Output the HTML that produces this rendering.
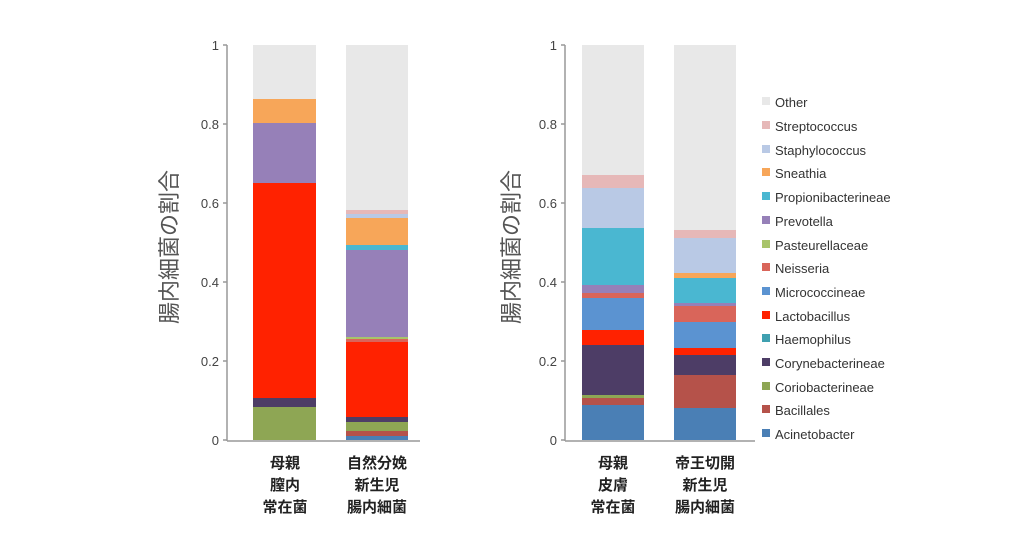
<!DOCTYPE html>
<html><head><meta charset="utf-8"><style>
body{margin:0;background:#fff;}
svg{display:block;font-family:"Liberation Sans","Noto Sans CJK JP",sans-serif;}
</style></head><body>
<svg width="1024" height="536" viewBox="0 0 1024 536">
<!-- left axis -->
<g stroke="#999" stroke-width="1.5" fill="none">
<line x1="227" y1="45" x2="227" y2="441"/>
<line x1="227" y1="441" x2="420" y2="441"/>
<line x1="223" y1="45" x2="227" y2="45"/><line x1="223" y1="124" x2="227" y2="124"/><line x1="223" y1="203" x2="227" y2="203"/><line x1="223" y1="282" x2="227" y2="282"/><line x1="223" y1="361" x2="227" y2="361"/><line x1="223" y1="440" x2="227" y2="440"/>
<line x1="565" y1="45" x2="565" y2="441"/>
<line x1="565" y1="441" x2="755" y2="441"/>
<line x1="561" y1="45" x2="565" y2="45"/><line x1="561" y1="124" x2="565" y2="124"/><line x1="561" y1="203" x2="565" y2="203"/><line x1="561" y1="282" x2="565" y2="282"/><line x1="561" y1="361" x2="565" y2="361"/><line x1="561" y1="440" x2="565" y2="440"/>
</g>
<g font-size="13" fill="#444" text-anchor="end">
<text x="219" y="50">1</text><text x="219" y="129">0.8</text><text x="219" y="208">0.6</text><text x="219" y="287">0.4</text><text x="219" y="366">0.2</text><text x="219" y="445">0</text>
<text x="557" y="50">1</text><text x="557" y="129">0.8</text><text x="557" y="208">0.6</text><text x="557" y="287">0.4</text><text x="557" y="366">0.2</text><text x="557" y="445">0</text>
</g>
<text transform="translate(177,247) rotate(-90)" font-size="22" fill="#555" text-anchor="middle">腸内細菌の割合</text>
<text transform="translate(519,247) rotate(-90)" font-size="22" fill="#555" text-anchor="middle">腸内細菌の割合</text>
<!-- left bar1 -->
<g>
<rect x="253" y="45" width="63" height="54" fill="#e8e8e8"/>
<rect x="253" y="99" width="63" height="24" fill="#f7a659"/>
<rect x="253" y="123" width="63" height="60" fill="#9680b8"/>
<rect x="253" y="183" width="63" height="215" fill="#ff2200"/>
<rect x="253" y="398" width="63" height="9" fill="#4d3d66"/>
<rect x="253" y="407" width="63" height="33" fill="#8ea654"/>
</g>
<g>
<rect x="346" y="45" width="62" height="165" fill="#e8e8e8"/>
<rect x="346" y="210" width="62" height="4" fill="#e6b8b8"/>
<rect x="346" y="214" width="62" height="4" fill="#b9c9e5"/>
<rect x="346" y="218" width="62" height="27" fill="#f7a659"/>
<rect x="346" y="245" width="62" height="5" fill="#4ab7d1"/>
<rect x="346" y="250" width="62" height="87" fill="#9680b8"/>
<rect x="346" y="337" width="62" height="2" fill="#a8c46a"/>
<rect x="346" y="339" width="62" height="3" fill="#d9655a"/>
<rect x="346" y="342" width="62" height="75" fill="#ff2200"/>
<rect x="346" y="417" width="62" height="5" fill="#4d3d66"/>
<rect x="346" y="422" width="62" height="9" fill="#8ea654"/>
<rect x="346" y="431" width="62" height="5" fill="#b5524a"/>
<rect x="346" y="436" width="62" height="4" fill="#4a7fb5"/>
</g>
<!-- right bars -->
<g>
<rect x="582" y="45" width="62" height="130" fill="#e8e8e8"/>
<rect x="582" y="175" width="62" height="13" fill="#e6b8b8"/>
<rect x="582" y="188" width="62" height="40" fill="#b9c9e5"/>
<rect x="582" y="228" width="62" height="57" fill="#4ab7d1"/>
<rect x="582" y="285" width="62" height="8" fill="#9680b8"/>
<rect x="582" y="293" width="62" height="5" fill="#d9655a"/>
<rect x="582" y="298" width="62" height="32" fill="#5b93d1"/>
<rect x="582" y="330" width="62" height="15" fill="#ff2200"/>
<rect x="582" y="345" width="62" height="50" fill="#4d3d66"/>
<rect x="582" y="395" width="62" height="3" fill="#8ea654"/>
<rect x="582" y="398" width="62" height="7" fill="#b5524a"/>
<rect x="582" y="405" width="62" height="35" fill="#4a7fb5"/>
</g>
<g>
<rect x="674" y="45" width="62" height="185" fill="#e8e8e8"/>
<rect x="674" y="230" width="62" height="8" fill="#e6b8b8"/>
<rect x="674" y="238" width="62" height="35" fill="#b9c9e5"/>
<rect x="674" y="273" width="62" height="5" fill="#f7a659"/>
<rect x="674" y="278" width="62" height="25" fill="#4ab7d1"/>
<rect x="674" y="303" width="62" height="3" fill="#9680b8"/>
<rect x="674" y="306" width="62" height="16" fill="#d9655a"/>
<rect x="674" y="322" width="62" height="26" fill="#5b93d1"/>
<rect x="674" y="348" width="62" height="7" fill="#ff2200"/>
<rect x="674" y="355" width="62" height="20" fill="#4d3d66"/>
<rect x="674" y="375" width="62" height="33" fill="#b5524a"/>
<rect x="674" y="408" width="62" height="32" fill="#4a7fb5"/>
</g>
<!-- category labels -->
<g font-size="15" font-weight="bold" fill="#222" text-anchor="middle">
<text x="285" y="468">母親</text><text x="285" y="490">膣内</text><text x="285" y="512">常在菌</text>
<text x="377" y="468">自然分娩</text><text x="377" y="490">新生児</text><text x="377" y="512">腸内細菌</text>
<text x="613" y="468">母親</text><text x="613" y="490">皮膚</text><text x="613" y="512">常在菌</text>
<text x="705" y="468">帝王切開</text><text x="705" y="490">新生児</text><text x="705" y="512">腸内細菌</text>
</g>
<!-- legend -->
<g font-size="13" fill="#333">
<rect x="762" y="97" width="8" height="8" fill="#e8e8e8"/><text x="775" y="107">Other</text>
<rect x="762" y="121" width="8" height="8" fill="#e6b8b8"/><text x="775" y="131">Streptococcus</text>
<rect x="762" y="145" width="8" height="8" fill="#b9c9e5"/><text x="775" y="155">Staphylococcus</text>
<rect x="762" y="168" width="8" height="8" fill="#f7a659"/><text x="775" y="178">Sneathia</text>
<rect x="762" y="192" width="8" height="8" fill="#4ab7d1"/><text x="775" y="202">Propionibacterineae</text>
<rect x="762" y="216" width="8" height="8" fill="#9680b8"/><text x="775" y="226">Prevotella</text>
<rect x="762" y="240" width="8" height="8" fill="#a8c46a"/><text x="775" y="250">Pasteurellaceae</text>
<rect x="762" y="263" width="8" height="8" fill="#d9655a"/><text x="775" y="273">Neisseria</text>
<rect x="762" y="287" width="8" height="8" fill="#5b93d1"/><text x="775" y="297">Micrococcineae</text>
<rect x="762" y="311" width="8" height="8" fill="#ff2200"/><text x="775" y="321">Lactobacillus</text>
<rect x="762" y="334" width="8" height="8" fill="#3fa0b0"/><text x="775" y="344">Haemophilus</text>
<rect x="762" y="358" width="8" height="8" fill="#4d3d66"/><text x="775" y="368">Corynebacterineae</text>
<rect x="762" y="382" width="8" height="8" fill="#8ea654"/><text x="775" y="392">Coriobacterineae</text>
<rect x="762" y="405" width="8" height="8" fill="#b5524a"/><text x="775" y="415">Bacillales</text>
<rect x="762" y="429" width="8" height="8" fill="#4a7fb5"/><text x="775" y="439">Acinetobacter</text>
</g>
</svg>
</body></html>
